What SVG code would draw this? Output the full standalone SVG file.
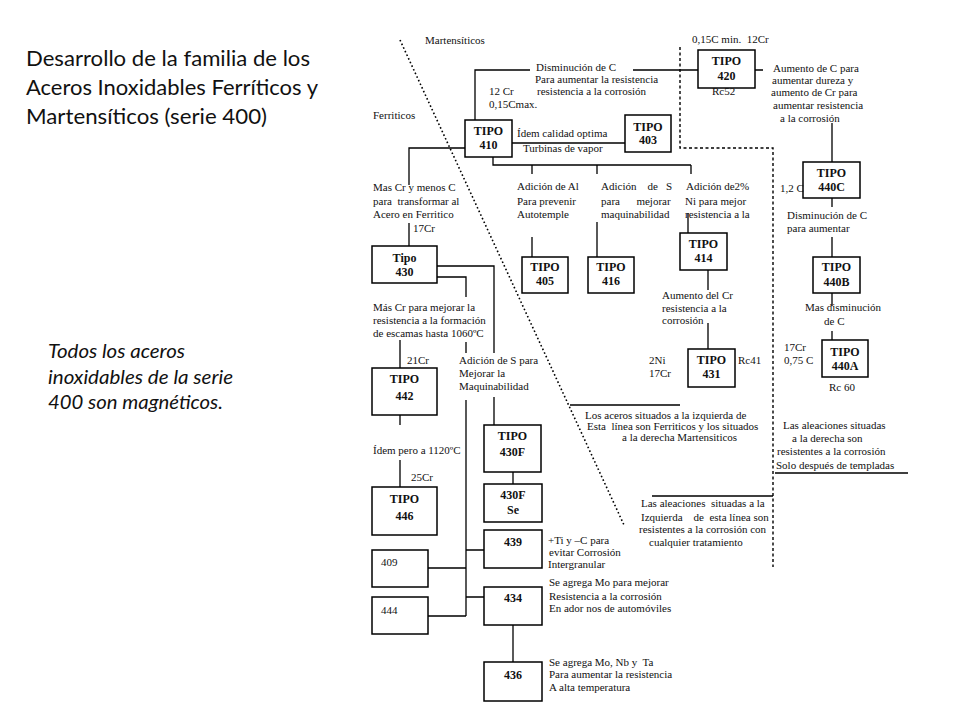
<svg xmlns="http://www.w3.org/2000/svg" width="960" height="720" viewBox="0 0 960 720">
<style>
.bg{fill:#fff}
.box{fill:#fff;stroke:#000;stroke-width:1.5}
.ln{fill:none;stroke:#000;stroke-width:1.3}
.dash{fill:none;stroke:#000;stroke-width:1.4;stroke-dasharray:3 2.5}
.dot{fill:none;stroke:#000;stroke-width:1.6;stroke-dasharray:1.6 2.4}
.t{font-family:"Liberation Serif","Times New Roman",serif;font-size:11px;fill:#111}
.b{font-family:"Liberation Serif","Times New Roman",serif;font-size:12px;font-weight:bold;fill:#111;text-anchor:middle}
.title{font-family:Lato,"Liberation Sans",sans-serif;font-size:22px;fill:#111}
.note{font-family:Lato,"Liberation Sans",sans-serif;font-size:19px;font-style:italic;fill:#111}
</style>
<rect class="bg" x="0" y="0" width="960" height="720"/>

<g id="title">
<text class="title" x="26" y="66" textLength="284" lengthAdjust="spacingAndGlyphs">Desarrollo de la familia de los</text>
<text class="title" x="26" y="95" textLength="292" lengthAdjust="spacingAndGlyphs">Aceros Inoxidables Ferríticos y</text>
<text class="title" x="26" y="124" textLength="241" lengthAdjust="spacingAndGlyphs">Martensíticos (serie 400)</text>
</g>
<g id="note">
<text class="note" x="48" y="358" textLength="137" lengthAdjust="spacingAndGlyphs">Todos los aceros</text>
<text class="note" x="48" y="384" textLength="185" lengthAdjust="spacingAndGlyphs">inoxidables de la serie</text>
<text class="note" x="48" y="409" textLength="175" lengthAdjust="spacingAndGlyphs">400 son magnéticos.</text>
</g>

<g id="connectors">
<path class="dot" d="M400,40 L624,525"/>
<path class="dash" d="M680,47 V148 H773 V567"/>
<path class="ln" d="M475,120 V70 H530 M633,70 H698 M755,70 H763"/>
<path class="ln" d="M512,143 H625"/>
<path class="ln" d="M465,148 H409 V185 M409,223 V246"/>
<path class="ln" d="M493,157 V165 H691 M532,165 V174 M597,165 V174 M691,165 V174"/>
<path class="ln" d="M532,237 V257 M597,222 V257"/>
<path class="ln" d="M688,213 V233 M708,270 V290 M708,323 V349"/>
<path class="ln" d="M832,123 V162 M832,198 V207 M832,237 V257 M832,293 V306 M832,331 V340"/>
<path class="ln" d="M437,266 H494 V353 M494,397 V425"/>
<path class="ln" d="M437,277 H466 V297 M466,342 V353 M466,400 V616"/>
<path class="ln" d="M400,340 V368 M400,415 V425 M400,460 V487"/>
<path class="ln" d="M513,472 V484"/>
<path class="ln" d="M466,550 H484 M428,568 H466 M428,616 H466 M466,597 H484"/>
<path class="ln" d="M513,625 V662"/>
<path class="ln" d="M570,405 H680 M775,473 H908 M652,496 H773"/>
</g>

<g id="n410"><rect class="box" x="465" y="120" width="47" height="37"/><text class="b" x="488.5" y="135">TIPO</text><text class="b" x="488.5" y="149">410</text></g>
<g id="n420"><rect class="box" x="698" y="50" width="57" height="38"/><text class="b" x="726.5" y="65">TIPO</text><text class="b" x="726.5" y="80">420</text></g>
<g id="n403"><rect class="box" x="625" y="115" width="46" height="37"/><text class="b" x="648" y="131">TIPO</text><text class="b" x="648" y="144">403</text></g>
<g id="n440C"><rect class="box" x="803" y="162" width="57" height="36"/><text class="b" x="831.5" y="177">TIPO</text><text class="b" x="831.5" y="191">440C</text></g>
<g id="n405"><rect class="box" x="522" y="257" width="46" height="36"/><text class="b" x="545" y="271">TIPO</text><text class="b" x="545" y="285">405</text></g>
<g id="n416"><rect class="box" x="588" y="257" width="46" height="36"/><text class="b" x="611" y="271">TIPO</text><text class="b" x="611" y="285">416</text></g>
<g id="n414"><rect class="box" x="680" y="233" width="47" height="37"/><text class="b" x="703.5" y="248">TIPO</text><text class="b" x="703.5" y="262">414</text></g>
<g id="n431"><rect class="box" x="688" y="349" width="47" height="38"/><text class="b" x="711.5" y="364">TIPO</text><text class="b" x="711.5" y="378">431</text></g>
<g id="n440B"><rect class="box" x="813" y="257" width="47" height="36"/><text class="b" x="836.5" y="271">TIPO</text><text class="b" x="836.5" y="286">440B</text></g>
<g id="n440A"><rect class="box" x="822" y="340" width="46" height="37"/><text class="b" x="845" y="356">TIPO</text><text class="b" x="845" y="370">440A</text></g>
<g id="n430"><rect class="box" x="372" y="246" width="65" height="37"/><text class="b" x="404.5" y="262">Tipo</text><text class="b" x="404.5" y="276">430</text></g>
<g id="n442"><rect class="box" x="372" y="368" width="65" height="47"/><text class="b" x="404.5" y="383">TIPO</text><text class="b" x="404.5" y="400">442</text></g>
<g id="n446"><rect class="box" x="372" y="487" width="65" height="48"/><text class="b" x="404.5" y="503">TIPO</text><text class="b" x="404.5" y="520">446</text></g>
<g id="n430F"><rect class="box" x="484" y="425" width="57" height="47"/><text class="b" x="512.5" y="440">TIPO</text><text class="b" x="512.5" y="456">430F</text></g>
<g id="n430FSe"><rect class="box" x="484" y="484" width="58" height="38"/><text class="b" x="513" y="499">430F</text><text class="b" x="513" y="514">Se</text></g>
<g id="n439"><rect class="box" x="484" y="530" width="58" height="38"/><text class="b" x="513" y="546">439</text></g>
<g id="n409"><rect class="box" x="372" y="550" width="56" height="37"/><text class="t" x="381" y="566">409</text></g>
<g id="n444"><rect class="box" x="372" y="597" width="56" height="37"/><text class="t" x="381" y="614">444</text></g>
<g id="n434"><rect class="box" x="484" y="587" width="58" height="38"/><text class="b" x="513" y="602">434</text></g>
<g id="n436"><rect class="box" x="484" y="662" width="58" height="39"/><text class="b" x="513" y="679">436</text></g>

<g id="labels">
<text class="t" x="425" y="44">Martensíticos</text>
<text class="t" x="373" y="119">Ferriticos</text>
<text class="t" x="536" y="71">Disminución de C</text>
<text class="t" x="535" y="83">Para aumentar la resistencia</text>
<text class="t" x="537" y="95">resistencia a la corrosión</text>
<text class="t" x="489" y="95">12 Cr</text>
<text class="t" x="489" y="108">0,15Cmax.</text>
<text class="t" x="692" y="43" xml:space="preserve">0,15C min.  12Cr</text>
<text class="t" x="712" y="95">Rc52</text>
<text class="t" x="773" y="72">Aumento de C para</text>
<text class="t" x="772" y="84">aumentar dureza y</text>
<text class="t" x="771" y="96">aumento de Cr para</text>
<text class="t" x="773" y="109">aumentar resistencia</text>
<text class="t" x="780" y="122">a la corrosión</text>
<text class="t" x="517" y="137">Ídem calidad optima</text>
<text class="t" x="523" y="152">Turbinas de vapor</text>
<text class="t" x="373" y="191">Mas Cr y menos C</text>
<text class="t" x="373" y="205" xml:space="preserve">para  transformar al</text>
<text class="t" x="373" y="218">Acero en Ferritico</text>
<text class="t" x="413" y="232">17Cr</text>
<text class="t" x="517" y="190">Adición de Al</text>
<text class="t" x="517" y="205">Para prevenir</text>
<text class="t" x="517" y="218">Autotemple</text>
<text class="t" x="601" y="190" xml:space="preserve">Adición    de   S</text>
<text class="t" x="601" y="205" xml:space="preserve">para      mejorar</text>
<text class="t" x="601" y="218">maquinabilidad</text>
<text class="t" x="686" y="190">Adición de2%</text>
<text class="t" x="685" y="205">Ni para mejor</text>
<text class="t" x="685" y="218">resistencia a la</text>
<text class="t" x="780" y="192">1,2 C</text>
<text class="t" x="787" y="219">Disminución de C</text>
<text class="t" x="787" y="232">para aumentar</text>
<text class="t" x="662" y="299">Aumento del Cr</text>
<text class="t" x="662" y="312">resistencia a la</text>
<text class="t" x="662" y="324">corrosión</text>
<text class="t" x="649" y="364">2Ni</text>
<text class="t" x="649" y="377">17Cr</text>
<text class="t" x="738" y="364">Rc41</text>
<text class="t" x="805" y="311">Mas disminución</text>
<text class="t" x="824" y="325">de C</text>
<text class="t" x="784" y="351">17Cr</text>
<text class="t" x="784" y="364">0,75 C</text>
<text class="t" x="829" y="391">Rc 60</text>
<text class="t" x="373" y="311">Más Cr para mejorar la</text>
<text class="t" x="373" y="324">resistencia a la formación</text>
<text class="t" x="373" y="337">de escamas hasta 1060ºC</text>
<text class="t" x="407" y="364">21Cr</text>
<text class="t" x="459" y="364">Adición de S para</text>
<text class="t" x="459" y="377">Mejorar la</text>
<text class="t" x="459" y="390">Maquinabilidad</text>
<text class="t" x="373" y="454">Ídem pero a 1120ºC</text>
<text class="t" x="411" y="481">25Cr</text>
<text class="t" x="548" y="544">+Ti y –C para</text>
<text class="t" x="549" y="556">evitar Corrosión</text>
<text class="t" x="548" y="568">Intergranular</text>
<text class="t" x="549" y="586">Se agrega Mo para mejorar</text>
<text class="t" x="549" y="600">Resistencia a la corrosión</text>
<text class="t" x="549" y="612">En ador nos de automóviles</text>
<text class="t" x="549" y="666" xml:space="preserve">Se agrega Mo, Nb y  Ta</text>
<text class="t" x="549" y="678">Para aumentar la resistencia</text>
<text class="t" x="549" y="691">A alta temperatura</text>
<text class="t" x="585" y="419">Los aceros situados a la izquierda de</text>
<text class="t" x="587" y="430" xml:space="preserve">Esta  línea son Ferriticos y los situados</text>
<text class="t" x="622" y="441">a la derecha Martensiticos</text>
<text class="t" x="783" y="429">Las aleaciones situadas</text>
<text class="t" x="792" y="442">a la derecha son</text>
<text class="t" x="777" y="455">resistentes a la corrosión</text>
<text class="t" x="776" y="469">Solo después de templadas</text>
<text class="t" x="641" y="507" xml:space="preserve">Las aleaciones  situadas a la</text>
<text class="t" x="641" y="521" xml:space="preserve">Izquierda    de  esta línea son</text>
<text class="t" x="639" y="533">resistentes a la corrosión con</text>
<text class="t" x="649" y="546">cualquier tratamiento</text>
</g>
</svg>
